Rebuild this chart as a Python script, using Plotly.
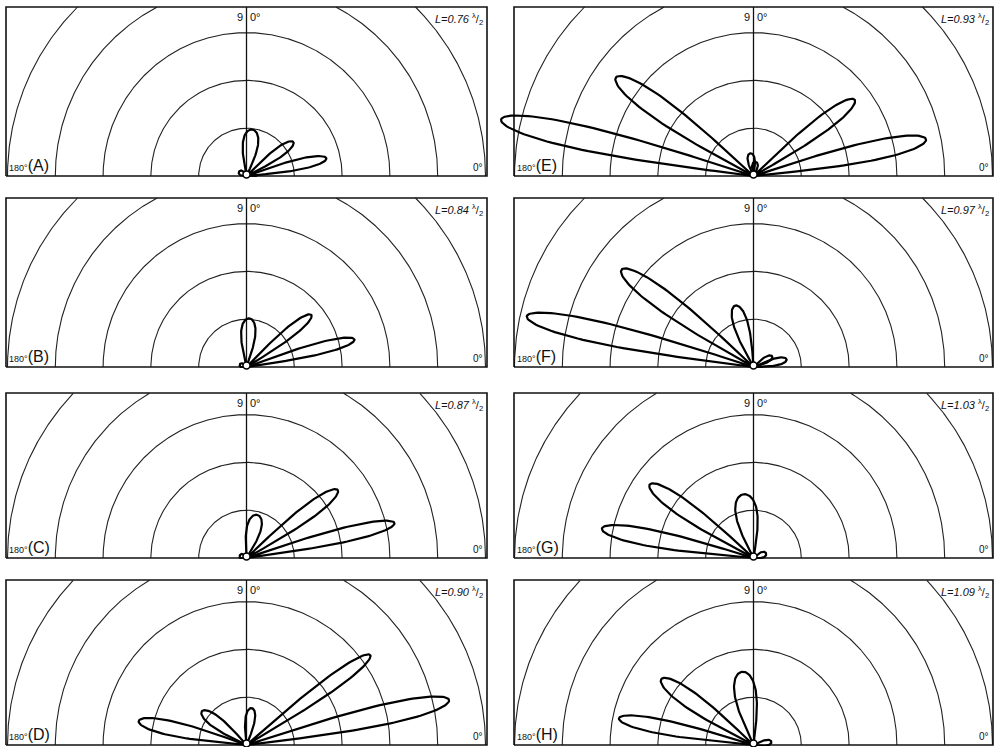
import numpy as np
import plotly.graph_objects as go

# ---------------- data ----------------
panel_letters = ["A", "B", "C", "D", "E", "F", "G", "H"]
length_labels = ["0.76", "0.84", "0.87", "0.90", "0.93", "0.97", "1.03", "1.09"]
ring_radii = [1, 2, 3, 4, 5]

# lobe direction (deg), lobe length (ring units), lobe max width (ring units)
A_dir = [83, 36, 12.5, 150, 4]
A_len = [0.98, 1.21, 1.71, 0.18, 0.2]
A_wid = [0.32, 0.2, 0.22, 0.1, 0.08]

B_dir = [87, 38.8, 14.3, 160]
B_len = [1.02, 1.74, 2.33, 0.15]
B_wid = [0.3, 0.22, 0.24, 0.08]

C_dir = [76, 36.7, 13.3, 160]
C_len = [0.93, 2.38, 3.18, 0.15]
C_wid = [0.3, 0.3, 0.3, 0.1]

D_dir = [82, 36, 12.5, 143, 167.5]
D_len = [0.78, 3.2, 4.34, 1.17, 2.31]
D_wid = [0.2, 0.3, 0.42, 0.24, 0.3]

E_dir = [144.4, 167.4, 37, 12, 98, 82]
E_len = [3.54, 5.41, 2.65, 3.69, 0.48, 0.3]
E_wid = [0.45, 0.5, 0.33, 0.4, 0.15, 0.12]

F_dir = [143.6, 167.4, 106.6, 13, 30]
F_len = [3.43, 4.86, 1.34, 0.71, 0.45]
F_wid = [0.42, 0.45, 0.3, 0.15, 0.12]

G_dir = [144.7, 169, 99, 20]
G_len = [2.66, 3.23, 1.35, 0.28]
G_wid = [0.35, 0.35, 0.45, 0.12]

H_dir = [144.5, 168.8, 99, 10]
H_len = [2.37, 2.87, 1.55, 0.38]
H_wid = [0.35, 0.3, 0.45, 0.12]

lobe_dirs = [A_dir, B_dir, C_dir, D_dir, E_dir, F_dir, G_dir, H_dir]
lobe_lens = [A_len, B_len, C_len, D_len, E_len, F_len, G_len, H_len]
lobe_wids = [A_wid, B_wid, C_wid, D_wid, E_wid, F_wid, G_wid, H_wid]

# ---------------- layout (pixels) ----------------
FIG_W, FIG_H = 998, 747
UNIT = 47.8  # pixels per ring
# frame boxes: left, top, right, bottom
frames = [
    (6, 7, 487, 176), (6, 198, 487, 367), (6, 393, 487, 558), (6, 580, 487, 745),
    (514, 7, 993, 176), (514, 198, 993, 367), (514, 393, 993, 558), (514, 580, 993, 745),
]

FONT = "Liberation Sans"
fig = go.Figure()
annotations = []


def lobe_outline(direction, length, width):
    u = np.linspace(0, 1, 60)
    s = (1 - np.cos(np.pi * u)) / 2
    h = width * s * np.sqrt(np.clip(1 - s ** 2, 0, None))
    t = s * length
    tt = np.concatenate([t, t[::-1]])
    hh = np.concatenate([h, -h[::-1]])
    a = np.deg2rad(direction)
    x = tt * np.cos(a) - hh * np.sin(a)
    y = tt * np.sin(a) + hh * np.cos(a)
    return list(x), list(y)


for i in range(8):
    L, T, R, B = frames[i]
    padL = 22 if i >= 4 else 5
    padR, padT, padB = 5, 5, 1
    hw = (R - L) / 2 / UNIT
    hh = (B - T) / UNIT
    suffix = "" if i == 0 else str(i + 1)
    xa, ya = "x" + suffix, "y" + suffix
    dom_x = [(L - padL) / FIG_W, (R + padR) / FIG_W]
    dom_y = [1 - (B + padB) / FIG_H, 1 - (T - padT) / FIG_H]
    fig.layout["xaxis" + suffix] = dict(
        domain=dom_x, range=[-hw - padL / UNIT, hw + padR / UNIT],
        visible=False, anchor=ya, fixedrange=True)
    fig.layout["yaxis" + suffix] = dict(
        domain=dom_y, range=[-padB / UNIT, hh + padT / UNIT],
        visible=False, anchor=xa, fixedrange=True)

    # rings clipped to the frame
    th = np.linspace(0, np.pi, 721)
    rx, ry = [], []
    for r in ring_radii:
        x = r * np.cos(th)
        y = r * np.sin(th)
        inside = (np.abs(x) <= hw) & (y <= hh)
        for xv, yv, ok in zip(x, y, inside):
            rx.append(xv if ok else None)
            ry.append(yv if ok else None)
        rx.append(None)
        ry.append(None)
    fig.add_trace(go.Scatter(x=rx, y=ry, mode="lines", xaxis=xa, yaxis=ya,
                             line=dict(color="#222", width=1.1), hoverinfo="skip",
                             showlegend=False, connectgaps=False))
    # 90 deg line
    fig.add_trace(go.Scatter(x=[0, 0], y=[0, hh], mode="lines", xaxis=xa, yaxis=ya,
                             line=dict(color="#111", width=1.3), hoverinfo="skip",
                             showlegend=False))
    # frame
    fig.add_trace(go.Scatter(x=[-hw, hw, hw, -hw, -hw], y=[0, 0, hh, hh, 0],
                             mode="lines", xaxis=xa, yaxis=ya,
                             line=dict(color="#111", width=1.6), hoverinfo="skip",
                             showlegend=False))
    # lobes
    px, py = [], []
    for d, ln, wd in zip(lobe_dirs[i], lobe_lens[i], lobe_wids[i]):
        x, y = lobe_outline(d, ln, wd)
        px += x + [None]
        py += y + [None]
    fig.add_trace(go.Scatter(x=px, y=py, mode="lines", xaxis=xa, yaxis=ya,
                             line=dict(color="#000", width=2.2), hoverinfo="skip",
                             showlegend=False))
    # small hub at origin
    fig.add_trace(go.Scatter(x=[0], y=[0.03], mode="markers", xaxis=xa, yaxis=ya,
                             marker=dict(size=7, color="white",
                                         line=dict(color="#000", width=1.5)),
                             hoverinfo="skip", showlegend=False, cliponaxis=False))

    # texts
    annotations += [
        dict(x=-0.03, y=hh - 0.05, xref=xa, yref=ya, text="9", showarrow=False,
             xanchor="right", yanchor="top", font=dict(size=11, family=FONT, color="#111")),
        dict(x=0.03, y=hh - 0.05, xref=xa, yref=ya, text="0°", showarrow=False,
             xanchor="left", yanchor="top", font=dict(size=11, family=FONT, color="#111")),
        dict(x=hw - 0.05, y=hh - 0.04, xref=xa, yref=ya,
             text="<i>L=" + length_labels[i] + "</i> <sup>λ</sup>/<sub>2</sub>",
             showarrow=False, xanchor="right", yanchor="top",
             font=dict(size=11, family=FONT, color="#111")),
        dict(x=-hw + 0.02, y=0.0, xref=xa, yref=ya,
             text="180°<span style='font-size:16px'>(" + panel_letters[i] + ")</span>",
             showarrow=False, xanchor="left", yanchor="bottom",
             font=dict(size=9, family=FONT, color="#111")),
        dict(x=hw - 0.05, y=0.02, xref=xa, yref=ya, text="0°", showarrow=False,
             xanchor="right", yanchor="bottom", font=dict(size=10, family=FONT, color="#111")),
    ]

fig.update_layout(
    width=FIG_W, height=FIG_H, margin=dict(l=0, r=0, t=0, b=0),
    paper_bgcolor="white", plot_bgcolor="rgba(0,0,0,0)",
    annotations=annotations, showlegend=False,
)
fig.write_html("out.html", config={"displayModeBar": False},
               post_script="document.body.style.margin='0';document.body.style.overflow='hidden';")
